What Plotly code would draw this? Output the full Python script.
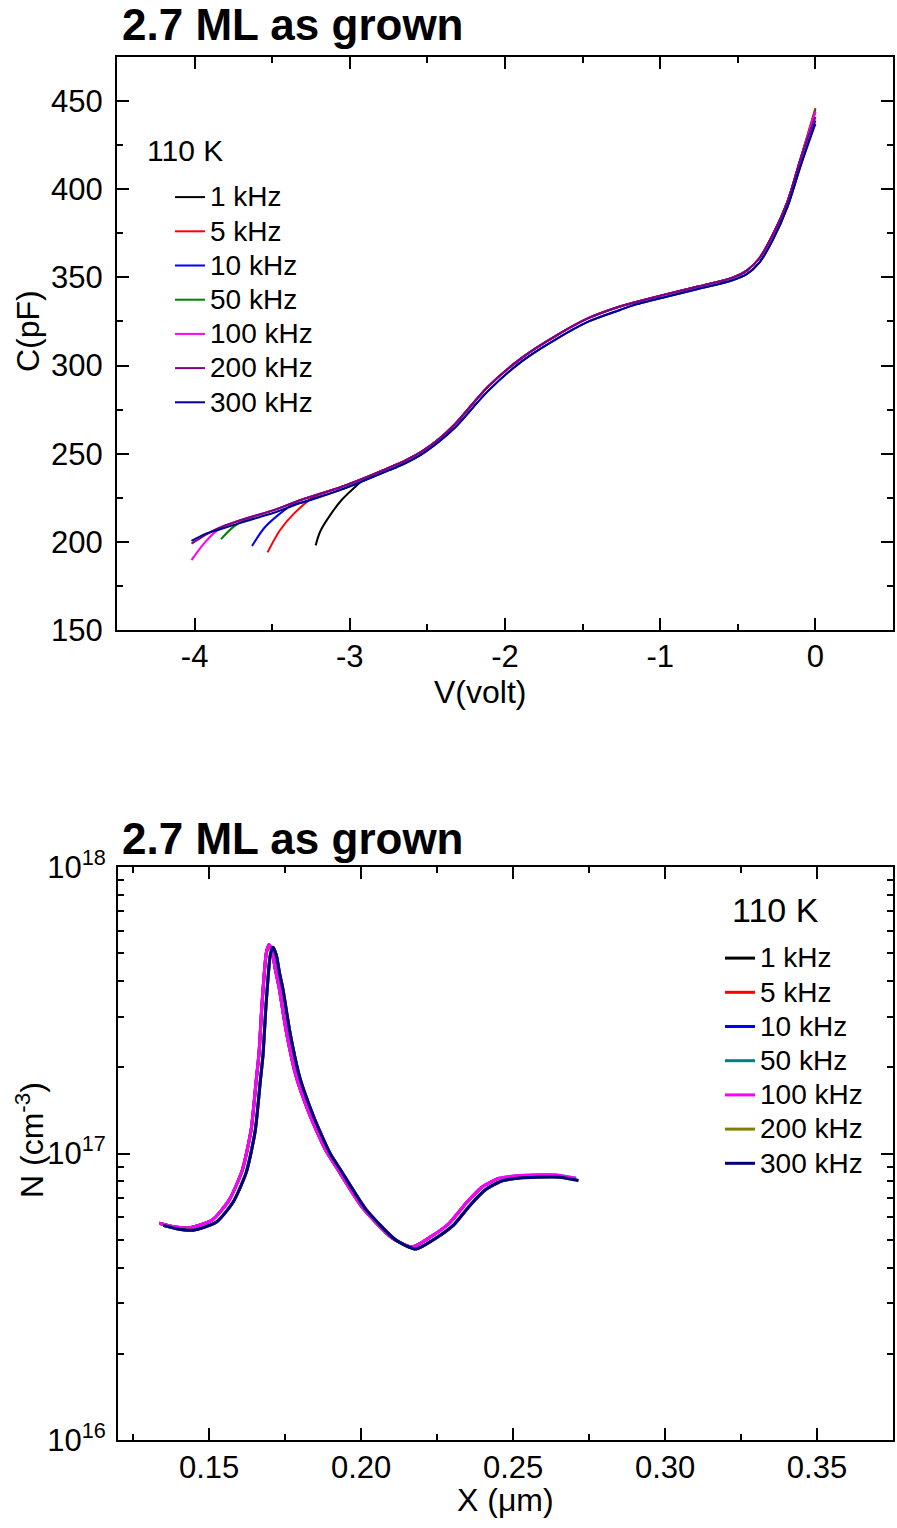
import plotly.graph_objects as go

W, H = 897, 1528
FONT = "Arial, Liberation Sans, sans-serif"

# ---------------- top panel data: C-V ----------------
freqs = ["1 kHz", "5 kHz", "10 kHz", "50 kHz", "100 kHz", "200 kHz", "300 kHz"]
top_colors = ["#000000", "#FF0000", "#0000FF", "#008000", "#FF00FF", "#800080", "#000090"]
bot_colors = ["#000000", "#FF0000", "#0000FF", "#008080", "#FF00FF", "#808000", "#000080"]

# common body of the C-V curves (V in volt, C in pF)
V_body = [-3.84, -3.66, -3.49, -3.32, -3.06, -2.97, -2.75, -2.65, -2.54, -2.43, -2.32, -2.11, -1.89,
          -1.67, -1.46, -1.26, -1.18, -0.96, -0.75, -0.53, -0.44, -0.36, -0.27, -0.18, -0.10]
C_body = [208, 213.5, 218, 223.6, 231, 234, 242, 245.8, 251, 258, 267, 288, 304.5,
          317, 327, 333.5, 335.5, 340.5, 345, 350, 354, 361, 375, 393, 416]
C_body_low = [207, 212, 216.5, 222, 229.5, 232.5, 240.5, 244.3, 249.5, 256.5, 265, 285.5, 302.5,
              315, 325, 331.5, 334, 339, 343.5, 348.5, 352, 358.5, 372, 390, 412]

# low-voltage tails (where curves separate) for each frequency
tail_V = [
    [-3.22, -3.19, -3.12, -3.05, -2.98, -2.92],
    [-3.53, -3.45, -3.36, -3.23],
    [-3.63, -3.55, -3.45, -3.36],
    [-3.83, -3.75, -3.66],
    [-4.02, -3.94, -3.84],
    [-4.02, -3.93],
    [-4.02, -3.93],
]
tail_C = [
    [198, 206, 216, 224, 230, 234.5],
    [194, 206.6, 216, 225.5],
    [197.6, 208, 216, 221.5],
    [201.5, 208.5, 213],
    [189.6, 199, 207.5],
    [199, 204],
    [200.5, 204.5],
]
C_at_zero = [444, 446, 439, 445, 444, 441, 437]
uses_low_body = [False, False, True, False, False, False, True]

# ---------------- bottom panel data: N-X ----------------
X_A = [0.1336, 0.1380, 0.1434, 0.1510, 0.1566, 0.1609, 0.1638, 0.1655, 0.1664, 0.1674, 0.1688,
       0.1697, 0.1708, 0.1718, 0.1730, 0.1753, 0.1786, 0.1829, 0.1852, 0.1885, 0.1918, 0.2003,
       0.2102, 0.2168, 0.2230, 0.2290, 0.2345, 0.2398, 0.2454, 0.2510, 0.2563, 0.2640, 0.2707]
N_A = [5.71e16, 5.56e16, 5.50e16, 5.86e16, 6.89e16, 8.75e16, 1.21e17, 1.81e17, 2.24e17, 3.35e17, 5.01e17,
       5.35e17, 5.01e17, 4.37e17, 3.80e17, 2.69e17, 1.86e17, 1.38e17, 1.21e17, 1.02e17, 8.97e16, 6.50e16,
       5.07e16, 4.72e16, 5.13e16, 5.71e16, 6.71e16, 7.64e16, 8.20e16, 8.36e16, 8.41e16, 8.41e16, 8.20e16]
X_B = [0.1349, 0.1393, 0.1447, 0.1523, 0.1579, 0.1622, 0.1651, 0.1668, 0.1677, 0.1687, 0.1701,
       0.1710, 0.1721, 0.1731, 0.1743, 0.1766, 0.1799, 0.1842, 0.1865, 0.1898, 0.1931, 0.2016,
       0.2115, 0.2181, 0.2243, 0.2303, 0.2358, 0.2411, 0.2467, 0.2523, 0.2576, 0.2653, 0.2715]
N_B = [5.61e16, 5.46e16, 5.40e16, 5.75e16, 6.77e16, 8.59e16, 1.19e17, 1.78e17, 2.20e17, 3.29e17, 4.92e17,
       5.25e17, 4.92e17, 4.29e17, 3.73e17, 2.64e17, 1.83e17, 1.36e17, 1.19e17, 1.00e17, 8.81e16, 6.38e16,
       4.98e16, 4.64e16, 5.04e16, 5.61e16, 6.59e16, 7.50e16, 8.05e16, 8.21e16, 8.26e16, 8.26e16, 8.05e16]
uses_body_B = [False, False, True, False, False, True, True]
X_end = [0.2400, 0.2480, 0.2535, 0.28, 0.28, 0.28, 0.28]

top_title = "2.7 ML as grown"
legend_title = "110 K"

fig = go.Figure()

for i, name in enumerate(freqs):
    body = C_body_low if uses_low_body[i] else C_body
    last_v = tail_V[i][-1]
    vb = [v for v in V_body if v > last_v + 0.03]
    cb = [c for v, c in zip(V_body, body) if v > last_v + 0.03]
    xs = tail_V[i] + vb + [0.0]
    ys = tail_C[i] + cb + [C_at_zero[i]]
    fig.add_trace(go.Scatter(
        x=xs, y=ys, mode="lines", name=f'<span style="font-size:28px">{name}</span>',
        line=dict(color=top_colors[i], width=2, shape="spline", smoothing=0.9),
        xaxis="x", yaxis="y", legend="legend", showlegend=True))

for i, name in enumerate(freqs):
    xb = X_B if uses_body_B[i] else X_A
    nb = N_B if uses_body_B[i] else N_A
    xs = [x for x in xb if x <= X_end[i]]
    ys = [n for x, n in zip(xb, nb) if x <= X_end[i]]
    fig.add_trace(go.Scatter(
        x=xs, y=ys, mode="lines", name=f'<span style="font-size:28px">{name}</span>',
        line=dict(color=bot_colors[i], width=3, shape="spline", smoothing=0.6),
        xaxis="x2", yaxis="y2", legend="legend2", showlegend=True))

def px(x):
    return x / W

def py(y):
    return 1 - y / H

axis_common = dict(
    showgrid=False, zeroline=False, showline=True, linecolor="black", linewidth=2,
    mirror="ticks", ticks="inside", ticklen=12, tickwidth=2, tickcolor="black",
    tickfont=dict(family=FONT, size=31, color="black"), automargin=False,
)

def label(text, x, y, size=32, angle=0, anchor="center"):
    return dict(text=text, x=px(x), y=py(y), xref="paper", yref="paper",
                xanchor=anchor, yanchor="middle", showarrow=False,
                textangle=angle, font=dict(family=FONT, size=size, color="black"))

fig.update_layout(
    width=W, height=H,
    margin=dict(l=0, r=0, t=0, b=0),
    paper_bgcolor="white", plot_bgcolor="white",
    font=dict(family=FONT, color="black"),
    xaxis=dict(
        **axis_common, domain=[px(117), px(893)], anchor="y", range=[-4.5, 0.5],
        tickmode="array", tickvals=[-4, -3, -2, -1, 0], ticktext=["-4", "-3", "-2", "-1", "0"],
        minor=dict(tickmode="array", tickvals=[-4.5, -3.5, -2.5, -1.5, -0.5],
                   ticks="inside", ticklen=6, tickwidth=2, tickcolor="black", showgrid=False),
        ticklabelstandoff=-2,
    ),
    yaxis=dict(
        **axis_common, domain=[py(630), py(57)], anchor="x", range=[150, 475],
        tickmode="linear", tick0=150, dtick=50,
        minor=dict(dtick=25, ticks="inside", ticklen=6, tickwidth=2, tickcolor="black", showgrid=False),
        ticklabelstandoff=6,
    ),
    xaxis2=dict(
        **axis_common, domain=[px(118), px(893)], anchor="y2", range=[0.12, 0.375],
        tickmode="array", tickvals=[0.15, 0.20, 0.25, 0.30, 0.35],
        ticktext=["0.15", "0.20", "0.25", "0.30", "0.35"],
        minor=dict(tickmode="array", tickvals=[0.125, 0.175, 0.225, 0.275, 0.325, 0.375],
                   ticks="inside", ticklen=6, tickwidth=2, tickcolor="black", showgrid=False),
        ticklabelstandoff=-1,
    ),
    yaxis2=dict(
        **axis_common, domain=[py(1440), py(867)], anchor="x2", type="log", range=[16, 18],
        tickmode="array", tickvals=[1e16, 1e17, 1e18],
        ticktext=["10<sup>16</sup>", "10<sup>17</sup>", "10<sup>18</sup>"],
        minor=dict(tickmode="array",
                   tickvals=[k * 1e16 for k in range(2, 10)] + [k * 1e17 for k in range(2, 10)],
                   ticks="inside", ticklen=6, tickwidth=2, tickcolor="black", showgrid=False),
        ticklabelstandoff=4,
    ),
    legend=dict(
        x=px(170), y=py(175), xanchor="left", yanchor="top",
        bgcolor="rgba(0,0,0,0)", borderwidth=0,
        font=dict(family=FONT, size=24, color="black"),
        tracegroupgap=0,
    ),
    legend2=dict(
        x=px(720), y=py(936), xanchor="left", yanchor="top",
        bgcolor="rgba(0,0,0,0)", borderwidth=0,
        font=dict(family=FONT, size=24, color="black"),
        tracegroupgap=0,
    ),
    annotations=[
        label(f"<b>{top_title}</b>", 120, 25, size=44, anchor="left"),
        label(f"<b>{top_title}</b>", 120, 838, size=44, anchor="left"),
        label("V(volt)", 480, 692),
        label("C(pF)", 28, 331, angle=-90),
        label("X (\u03bcm)", 505, 1500),
        label("N (cm<sup>-3</sup>)", 30, 1140, angle=-90),
        label(legend_title, 145, 150, size=30, anchor="left"),
        label(legend_title, 730, 910, size=34, anchor="left"),
    ],
)

fig.write_html("out.html")
